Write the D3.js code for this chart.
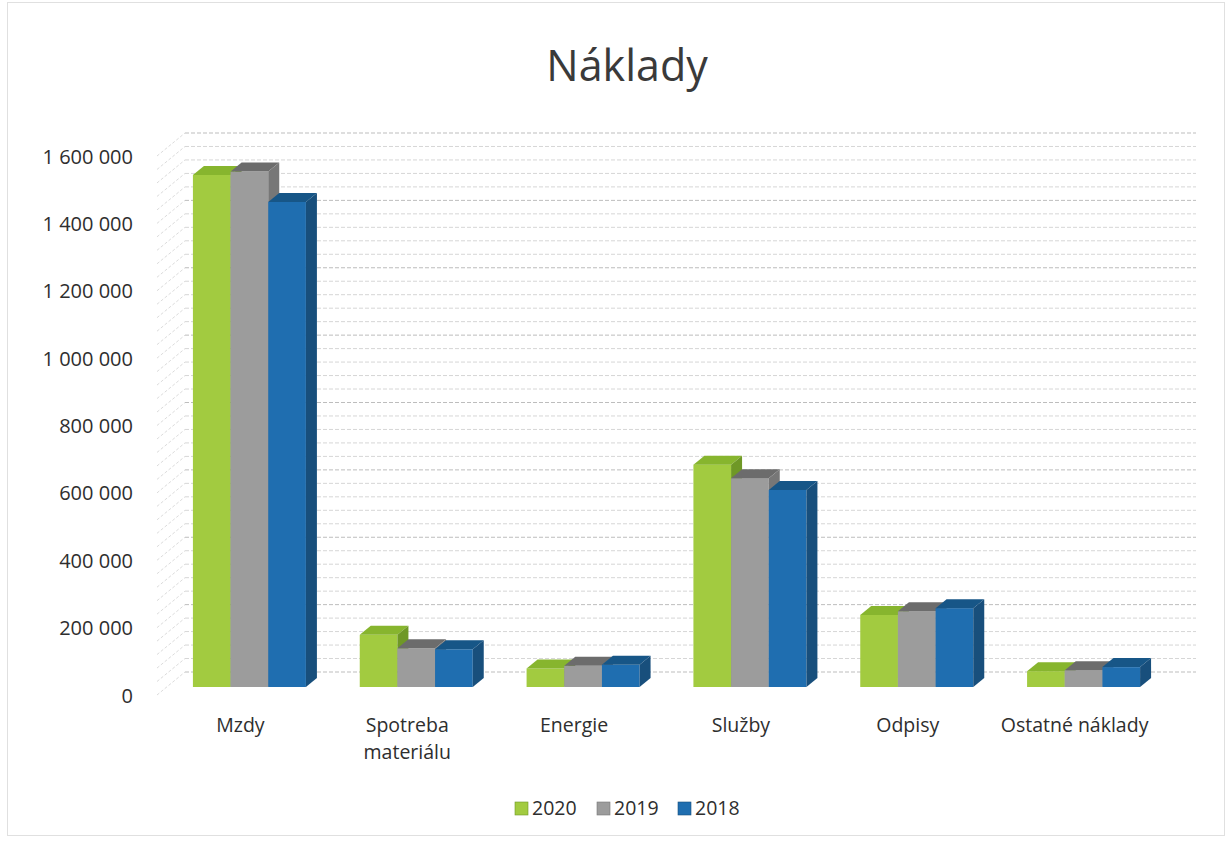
<!DOCTYPE html>
<html>
<head>
<meta charset="utf-8">
<script src="https://cdn.jsdelivr.net/npm/d3@7"></script>
<style>
  html, body { margin: 0; padding: 0; background: #ffffff; }
  svg { display: block; font-family: "Open Sans", "Noto Sans", sans-serif; }
</style>
</head>
<body>
<svg id="chart" width="1230" height="841"></svg>
<script>
// ---- data ----
const categories = ["Mzdy", "Spotreba materiálu", "Energie", "Služby", "Odpisy", "Ostatné náklady"];
const seriesNames = ["2020", "2019", "2018"];
const values2020 = [1520000, 155000, 55000, 660000, 214000, 47000];
const values2019 = [1530000, 115000, 63000, 620000, 225000, 50000];
const values2018 = [1440000, 112000, 66000, 585000, 234000, 59000];
const yTicks = [0, 200000, 400000, 600000, 800000, 1000000, 1200000, 1400000, 1600000];
const minorStep = 40000;
const titleText = "Náklady";

const seriesValues = [values2020, values2019, values2018];
const colors = {
  "2020": { front: "#a2cb40", top: "#87b52e", side: "#6f9826" },
  "2019": { front: "#9c9c9c", top: "#6c6c6c", side: "#777777" },
  "2018": { front: "#1f6eb0", top: "#175687", side: "#184f7c" }
};

const svg = d3.select("#chart");

// faint frame
svg.append("rect").attr("x", 7.5).attr("y", 2.5).attr("width", 1217).attr("height", 833)
  .attr("fill", "none").attr("stroke", "#e0e0e0").attr("stroke-width", 1);

// ---- geometry ----
const xLeft = 157, xRight = 1158;
const wallDx = 28, wallDy = -23;         // depth of the walls
const barOffX = 9, barOffY = -8;         // bars start a bit behind the front edge
const barDx = 11, barDy = -9;            // depth of each bar

const y = d3.scaleLinear().domain([0, 1600000]).range([695, 156]);
const x0 = d3.scaleBand().domain(categories).range([xLeft, xRight]).paddingInner(0).paddingOuter(0);
const groupW = 113;
const x1 = d3.scaleBand().domain(seriesNames).range([0, groupW]).padding(0);

// ---- gridlines ----
const minorVals = d3.range(0, 1600000 + 1, minorStep);
const grid = svg.append("g");
grid.selectAll("line.back").data(minorVals).join("line")
  .attr("class", "back")
  .attr("x1", xLeft + wallDx).attr("x2", xRight + wallDx + 10)
  .attr("y1", d => y(d) + wallDy).attr("y2", d => y(d) + wallDy)
  .attr("stroke", d => d % 200000 === 0 ? "#bdbdbd" : "#d6d6d6")
  .attr("stroke-width", 1)
  .attr("stroke-dasharray", "4,2");
grid.selectAll("line.side").data(minorVals).join("line")
  .attr("class", "side")
  .attr("x1", xLeft).attr("x2", xLeft + wallDx)
  .attr("y1", d => y(d)).attr("y2", d => y(d) + wallDy)
  .attr("stroke", "#d2d2d2").attr("stroke-width", 0.8)
  .attr("stroke-dasharray", "3,2");

// ---- y axis labels ----
const fmt = v => d3.format(",")(v).replace(/,/g, " ");
const yAxis = d3.axisLeft(y).tickValues(yTicks).tickFormat(fmt).tickSize(0).tickPadding(0);
const yg = svg.append("g").attr("transform", "translate(133,0)").call(yAxis);
yg.select(".domain").remove();
yg.selectAll("text").attr("font-size", 20).attr("fill", "#2e2e2e")
  .attr("font-family", "'Open Sans', sans-serif").attr("dy", "0.35em");

// ---- bars ----
const bars = svg.append("g");
categories.forEach((cat, ci) => {
  const gx = x0(cat) + (x0.bandwidth() - groupW) / 2 + barOffX;
  seriesNames.forEach((s, si) => {
    const v = seriesValues[si][ci];
    const c = colors[s];
    const bx = gx + x1(s);
    const bw = x1.bandwidth();
    const yb = y(0) + barOffY;
    const yt = y(v) + barOffY;
    const g = bars.append("g");
    g.append("rect").attr("x", bx).attr("y", yt).attr("width", bw).attr("height", yb - yt)
      .attr("fill", c.front);
    g.append("path").attr("d", d3.line()([
      [bx, yt], [bx + barDx, yt + barDy], [bx + bw + barDx, yt + barDy], [bx + bw, yt]
    ]) + "Z").attr("fill", c.top);
    g.append("path").attr("d", d3.line()([
      [bx + bw, yt], [bx + bw + barDx, yt + barDy], [bx + bw + barDx, yb + barDy], [bx + bw, yb]
    ]) + "Z").attr("fill", c.side);
  });
});

// ---- category labels ----
const xg = svg.append("g");
categories.forEach(cat => {
  const cx = x0(cat) + x0.bandwidth() / 2;
  const t = xg.append("text").attr("x", cx).attr("y", 732)
    .attr("text-anchor", "middle").attr("font-size", 19.5).attr("fill", "#2e2e2e")
    .text(cat);
  if (t.node().getComputedTextLength() > 160) {
    const words = cat.split(" ");
    t.text(null);
    words.forEach((w, i) => {
      t.append("tspan").attr("x", cx).attr("y", 732 + i * 27).text(w);
    });
  }
});

// ---- title ----
svg.append("text").attr("x", 627).attr("y", 81).attr("text-anchor", "middle")
  .attr("font-size", 43).attr("fill", "#3a3a3a").text(titleText);

// ---- legend ----
const legendX = [515, 597, 678];
const lg = svg.append("g");
seriesNames.forEach((s, i) => {
  lg.append("rect").attr("x", legendX[i]).attr("y", 802).attr("width", 13).attr("height", 13)
    .attr("fill", colors[s].front).attr("stroke", colors[s].side).attr("stroke-width", 0.6);
  lg.append("text").attr("x", legendX[i] + 17).attr("y", 815)
    .attr("font-size", 19.5).attr("fill", "#2e2e2e").text(s);
});
</script>
</body>
</html>
